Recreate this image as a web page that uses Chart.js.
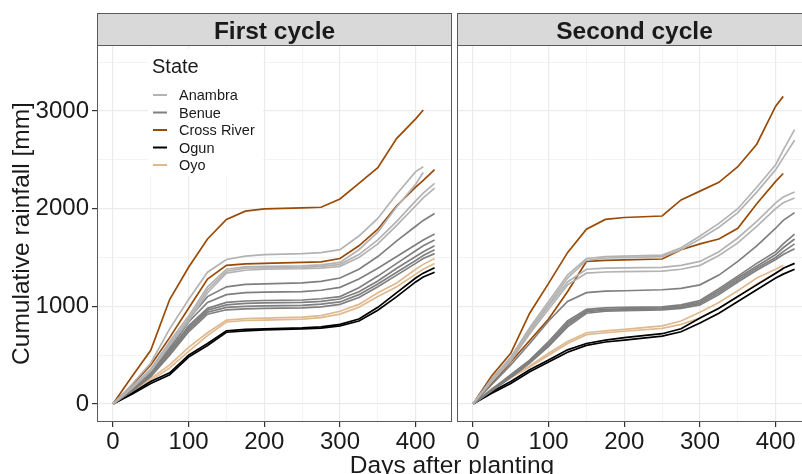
<!DOCTYPE html>
<html>
<head>
<meta charset="utf-8">
<script src="https://cdn.jsdelivr.net/npm/chart.js@4.4.1/dist/chart.umd.min.js"></script>
<style>
html, body { margin: 0; padding: 0; background: #fff; overflow: hidden; width: 802px; height: 474px; }
#wrap { position: relative; width: 802px; height: 474px; overflow: hidden; }
#p1 { position: absolute; left: 0; top: 0; }
#p2 { position: absolute; left: 455px; top: 0; }
#xtitle {
    position: absolute; left: 252px; top: 453px; width: 400px; text-align: center;
    font: 24.5px "Liberation Sans", Arial, sans-serif; line-height: 24px; color: #1a1a1a;
}
</style>
</head>
<body>
<div id="wrap">
    <canvas id="p1" width="455" height="474"></canvas>
    <canvas id="p2" width="360" height="474"></canvas>
    <div id="xtitle">Days after planting</div>
</div>
<script>
// === DATA ===
const days = [0, 25, 50, 75, 100, 125, 150, 175, 200, 250, 275, 300, 325, 350, 375, 400, 410, 425];
const states = ['Anambra', 'Benue', 'Cross River', 'Ogun', 'Oyo'];
const stateColors = ['#b3b3b3', '#7f7f7f', '#994a06', '#000000', '#dfb98f'];
const yGridValues = [0, 500, 1000, 1500, 2000, 2500, 3000, 3500];
const xGridValues = [0, 50, 100, 150, 200, 250, 300, 350, 400];

// First cycle, one row per site
const firstAnambra = [
    [0, 200, 420, 770, 1070, 1350, 1480, 1515, 1530, 1540, 1550, 1580, 1720, 1900, 2150, 2380, 2430, null],
    [0, 170, 360, 640, 900, 1200, 1380, 1405, 1410, 1415, 1425, 1450, 1580, 1760, 2020, 2250, 2370, null],
    [0, 170, 350, 620, 870, 1170, 1360, 1390, 1395, 1400, 1410, 1430, 1530, 1680, 1870, 2080, 2160, 2260],
    [0, 160, 340, 600, 850, 1140, 1340, 1370, 1380, 1385, 1392, 1410, 1500, 1640, 1830, 2030, 2110, 2210]
];
const firstBenue = [
    [0, 160, 330, 580, 870, 1100, 1200, 1225, 1230, 1240, 1255, 1290, 1380, 1510, 1670, 1820, 1880, 1950],
    [0, 150, 320, 560, 840, 1040, 1120, 1140, 1145, 1150, 1165, 1195, 1280, 1390, 1510, 1630, 1680, 1740],
    [0, 150, 310, 540, 800, 980, 1040, 1055, 1060, 1065, 1078, 1100, 1190, 1310, 1440, 1570, 1620, 1680],
    [0, 140, 300, 530, 780, 960, 1015, 1030, 1035, 1040, 1052, 1075, 1150, 1260, 1390, 1510, 1560, 1620],
    [0, 140, 290, 510, 760, 940, 990, 1000, 1005, 1010, 1022, 1045, 1120, 1230, 1350, 1470, 1520, 1580],
    [0, 130, 280, 500, 740, 920, 965, 975, 980, 985, 995, 1020, 1090, 1200, 1320, 1440, 1490, 1540]
];
const firstCrossRiver = [
    [0, 280, 550, 1070, 1400, 1690, 1890, 1975, 1998, 2008, 2015, 2100, 2260, 2420, 2720, 2920, 3010, null],
    [0, 190, 400, 680, 980, 1280, 1420, 1435, 1440, 1450, 1455, 1490, 1620, 1790, 2030, 2220, 2290, 2400]
];
const firstOgun = [
    [0, 110, 230, 320, 500, 620, 750, 765, 770, 780, 790, 815, 870, 990, 1140, 1290, 1340, 1395],
    [0, 100, 210, 300, 480, 600, 735, 750, 760, 770, 778, 800, 850, 960, 1100, 1250, 1300, 1350]
];
const firstOyo = [
    [0, 140, 260, 400, 580, 730, 860, 875, 880, 890, 905, 950, 1020, 1140, 1240, 1380, 1430, 1490],
    [0, 130, 240, 370, 540, 700, 840, 855, 860, 870, 885, 920, 990, 1100, 1200, 1330, 1380, 1440]
];

// Second cycle
const secondAnambra = [
    [0, 260, 480, 780, 1050, 1320, 1490, 1510, 1515, 1525, 1600, 1720, 1850, 2000, 2220, 2450, 2600, 2810],
    [0, 250, 460, 760, 1020, 1290, 1470, 1495, 1500, 1510, 1580, 1690, 1810, 1960, 2170, 2400, 2520, 2700],
    [0, 240, 450, 740, 1000, 1250, 1380, 1392, 1395, 1400, 1420, 1460, 1560, 1700, 1870, 2060, 2120, 2170],
    [0, 230, 440, 720, 970, 1220, 1340, 1352, 1355, 1360, 1380, 1420, 1520, 1650, 1820, 2000, 2060, 2110]
];
const secondBenue = [
    [0, 200, 400, 620, 850, 1050, 1140, 1155, 1160, 1170, 1185, 1220, 1320, 1460, 1620, 1800, 1880, 1960],
    [0, 150, 300, 450, 640, 850, 970, 985, 990, 995, 1015, 1060, 1180, 1310, 1440, 1560, 1640, 1740],
    [0, 145, 290, 440, 620, 830, 955, 970, 975, 985, 1005, 1045, 1160, 1290, 1410, 1530, 1600, 1690],
    [0, 140, 280, 430, 600, 810, 945, 960, 965, 975, 992, 1030, 1140, 1270, 1390, 1500, 1560, 1640],
    [0, 135, 270, 420, 590, 790, 930, 950, 955, 965, 980, 1015, 1120, 1250, 1370, 1480, 1530, 1590]
];
const secondCrossRiver = [
    [0, 290, 520, 930, 1235, 1550, 1790, 1890, 1910, 1925, 2090, 2180, 2270, 2430, 2660, 3050, 3150, null],
    [0, 210, 430, 650, 870, 1150, 1460, 1470, 1475, 1485, 1580, 1640, 1690, 1800, 2050, 2280, 2360, null]
];
const secondOgun = [
    [0, 125, 230, 350, 450, 555, 620, 655, 680, 720, 770, 880, 980, 1100, 1220, 1340, 1390, 1440],
    [0, 110, 210, 330, 430, 530, 600, 635, 655, 695, 740, 830, 930, 1050, 1170, 1290, 1330, 1380]
];
const secondOyo = [
    [0, 160, 280, 390, 520, 640, 730, 750, 765, 800, 850, 940, 1040, 1160, 1290, 1380, 1420, null],
    [0, 150, 270, 380, 500, 620, 710, 730, 745, 775, 815, 880, 980, 1100, 1230, 1340, 1380, null]
];

const firstCycle = [firstAnambra, firstBenue, firstCrossRiver, firstOgun, firstOyo];
const secondCycle = [secondAnambra, secondBenue, secondCrossRiver, secondOgun, secondOyo];

const FONT = '"Liberation Sans", Arial, sans-serif';

function buildDatasets(cycle) {
    const sets = [];
    cycle.forEach(function(rows, s) {
        rows.forEach(function(row) {
            sets.push({
                label: states[s],
                data: days.map(function(d, i) { return row[i] == null ? null : { x: d, y: row[i] }; })
                          .filter(function(p) { return p; }),
                borderColor: stateColors[s],
                borderWidth: 1.7,
                pointRadius: 0,
                tension: 0,
                fill: false
            });
        });
    });
    return sets;
}

// strip + panel border
const panelFrame = {
    id: 'panelFrame',
    afterDraw(chart, args, opts) {
        const ctx = chart.ctx, a = chart.chartArea;
        ctx.save();
        ctx.fillStyle = '#d9d9d9';
        ctx.fillRect(a.left, opts.stripTop, a.right - a.left, a.top - opts.stripTop);
        ctx.strokeStyle = '#5a5a5a';
        ctx.lineWidth = 1;
        ctx.strokeRect(a.left + 0.5, opts.stripTop + 0.5, a.right - a.left - 1, a.top - opts.stripTop);
        ctx.strokeRect(a.left + 0.5, a.top + 0.5, a.right - a.left - 1, a.bottom - a.top - 1);
        ctx.fillStyle = '#1a1a1a';
        ctx.font = 'bold 24.5px ' + FONT;
        ctx.textAlign = 'center';
        ctx.textBaseline = 'alphabetic';
        ctx.fillText(opts.label, (a.left + a.right) / 2, a.top - 6);
        ctx.restore();
    }
};

// ggplot-style legend inside first panel
const stateLegend = {
    id: 'stateLegend',
    afterDraw(chart, args, opts) {
        if (!opts.show) return;
        const ctx = chart.ctx;
        ctx.save();
        ctx.fillStyle = '#fff';
        ctx.fillRect(148, 49, 115, 127);
        ctx.fillStyle = '#1a1a1a';
        ctx.font = '20px ' + FONT;
        ctx.textBaseline = 'alphabetic';
        ctx.fillText('State', 152, 73);
        ctx.font = '14.5px ' + FONT;
        ctx.textBaseline = 'middle';
        states.forEach(function(name, i) {
            const y = 95 + i * 17.5;
            ctx.strokeStyle = stateColors[i];
            ctx.lineWidth = 2;
            ctx.beginPath();
            ctx.moveTo(153, y);
            ctx.lineTo(167, y);
            ctx.stroke();
            ctx.fillStyle = '#1a1a1a';
            ctx.fillText(name, 179, y + 1);
        });
        ctx.restore();
    }
};

function makeOptions(first, label) {
    return {
        responsive: false,
        animation: false,
        layout: { padding: { top: 45, right: 3, bottom: 0, left: first ? 0 : 2 } },
        plugins: {
            legend: { display: false },
            tooltip: { enabled: false },
            panelFrame: { label: label, stripTop: 13 },
            stateLegend: { show: first }
        },
        scales: {
            x: {
                type: 'linear',
                min: -21,
                max: 448,
                afterBuildTicks: function(s) { s.ticks = xGridValues.map(function(v) { return { value: v }; }); },
                afterFit: function(s) { s.height = 52; },
                border: { display: false },
                grid: {
                    color: '#ebebeb',
                    lineWidth: function(c) { return c.tick && c.tick.value % 100 === 0 ? 1.2 : 0.6; },
                    tickColor: function(c) { return c.tick && c.tick.value % 100 === 0 ? '#333' : 'rgba(0,0,0,0)'; },
                    tickLength: 5
                },
                ticks: {
                    autoSkip: false,
                    maxRotation: 0,
                    padding: 1,
                    color: '#1a1a1a',
                    font: { family: FONT, size: 24 },
                    callback: function(v) { return v % 100 === 0 ? v : ''; }
                }
            },
            y: {
                min: -184,
                max: 3676,
                afterBuildTicks: function(s) { s.ticks = yGridValues.map(function(v) { return { value: v }; }); },
                afterFit: function(s) { s.width = first ? 97 : 0; },
                border: { display: false },
                grid: {
                    color: '#ebebeb',
                    lineWidth: function(c) { return c.tick && c.tick.value % 1000 === 0 ? 1.2 : 0.6; },
                    tickColor: function(c) { return first && c.tick && c.tick.value % 1000 === 0 ? '#333' : 'rgba(0,0,0,0)'; },
                    tickLength: first ? 5 : 0
                },
                ticks: {
                    display: first,
                    autoSkip: false,
                    padding: 3,
                    color: '#1a1a1a',
                    font: { family: FONT, size: 24 },
                    callback: function(v) { return v % 1000 === 0 ? v : ''; }
                },
                title: {
                    display: first,
                    text: 'Cumulative rainfall [mm]',
                    color: '#1a1a1a',
                    font: { family: FONT, size: 24.5 },
                    padding: { top: 8, bottom: 0 }
                }
            }
        }
    };
}

document.addEventListener('DOMContentLoaded', function() {
    new Chart(document.getElementById('p1'), {
        type: 'line',
        data: { datasets: buildDatasets(firstCycle) },
        options: makeOptions(true, 'First cycle'),
        plugins: [panelFrame, stateLegend]
    });
    new Chart(document.getElementById('p2'), {
        type: 'line',
        data: { datasets: buildDatasets(secondCycle) },
        options: makeOptions(false, 'Second cycle'),
        plugins: [panelFrame, stateLegend]
    });
});
</script>
</body>
</html>
